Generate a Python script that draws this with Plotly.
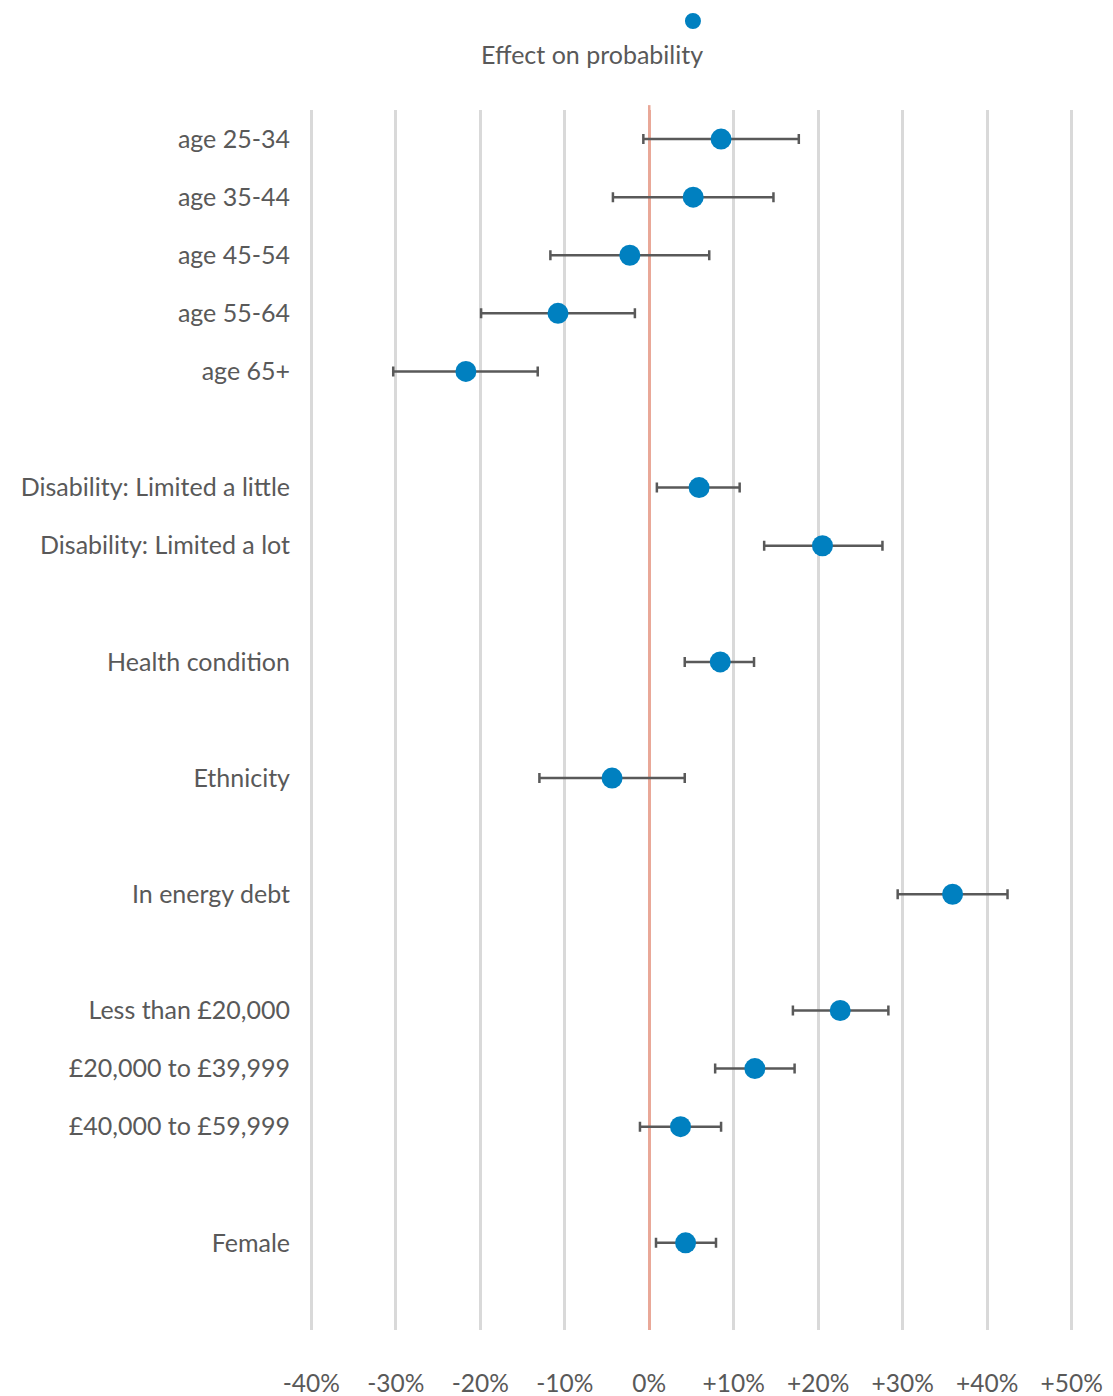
import plotly.graph_objects as go

# Groups of categories; a blank row separates each group
groups = [
    ["age 25-34", "age 35-44", "age 45-54", "age 55-64", "age 65+"],
    ["Disability: Limited a little", "Disability: Limited a lot"],
    ["Health condition"],
    ["Ethnicity"],
    ["In energy debt"],
    ["Less than £20,000", "£20,000 to £39,999", "£40,000 to £59,999"],
    ["Female"],
]

# Effect on probability (percentage points) with confidence interval bounds
effect = [8.5, 5.2, -2.3, -10.8, -21.7, 5.9, 20.5, 8.4, -4.4, 35.9, 22.6, 12.5, 3.7, 4.3]
lower = [-0.7, -4.3, -11.7, -19.9, -30.3, 0.9, 13.6, 4.2, -13.0, 29.4, 17.0, 7.8, -1.1, 0.8]
upper = [17.7, 14.7, 7.1, -1.7, -13.2, 10.7, 27.6, 12.4, 4.2, 42.4, 28.3, 17.2, 8.5, 7.9]

x_ticks = [-40, -30, -20, -10, 0, 10, 20, 30, 40, 50]
x_ticktext = ["-40%", "-30%", "-20%", "-10%", "0%", "+10%", "+20%", "+30%", "+40%", "+50%"]

# Row index for each category, leaving a gap after every group
labels, rows = [], []
r = 0
for g in groups:
    for name in g:
        labels.append(name)
        rows.append(r)
        r += 1
    r += 1
n_rows = r

TEXT = "#595959"
BLUE = "#0080C0"
ZERO = "#E9A898"
FONT = "Lato"

fig = go.Figure()
fig.add_trace(go.Scatter(
    x=effect,
    y=rows,
    mode="markers",
    marker=dict(size=21, color=BLUE),
    error_x=dict(
        type="data",
        symmetric=False,
        array=[u - e for u, e in zip(upper, effect)],
        arrayminus=[e - l for e, l in zip(effect, lower)],
        color="#595959",
        thickness=2.5,
        width=5,
    ),
    name="Effect on probability",
    showlegend=False,
    hoverinfo="skip",
))

# Small extension of the zero line above the plot area
fig.add_shape(type="line", xref="x", yref="paper", x0=0, x1=0, y0=0.99, y1=1.004,
              line=dict(color=ZERO, width=2.5), layer="below")

# Legend: marker above its caption
fig.add_shape(type="circle", xref="paper", yref="paper",
              x0=0.5019 - 0.0105, x1=0.5019 + 0.0105,
              y0=1.0730 - 0.0066, y1=1.0730 + 0.0066,
              fillcolor=BLUE, line=dict(width=0))
fig.add_annotation(text="Effect on probability", xref="paper", yref="paper",
                   x=0.369, y=1.0459, showarrow=False,
                   font=dict(family=FONT, size=25, color=TEXT),
                   xanchor="center", yanchor="middle")

fig.update_layout(
    width=1113,
    height=1396,
    margin=dict(l=310, r=40, t=110, b=66),
    paper_bgcolor="white",
    plot_bgcolor="white",
    font=dict(family=FONT, color=TEXT, size=25),
    xaxis=dict(
        range=[-40.15, 50.15],
        tickvals=x_ticks,
        ticktext=x_ticktext,
        showgrid=True,
        gridcolor="#D9D9D9",
        gridwidth=2.5,
        zeroline=True,
        zerolinecolor=ZERO,
        zerolinewidth=2.5,
        showline=False,
        ticks="",
        ticklabelstandoff=36,
        tickfont=dict(family=FONT, size=24.5, color=TEXT),
        automargin=False,
        fixedrange=True,
    ),
    yaxis=dict(
        range=[n_rows - 0.5, -0.5],
        tickvals=rows,
        ticktext=labels,
        showgrid=False,
        zeroline=False,
        showline=False,
        ticks="",
        ticklabelstandoff=19,
        tickfont=dict(family=FONT, size=25, color=TEXT),
        automargin=False,
        fixedrange=True,
    ),
)

fig.write_html("out.html")
